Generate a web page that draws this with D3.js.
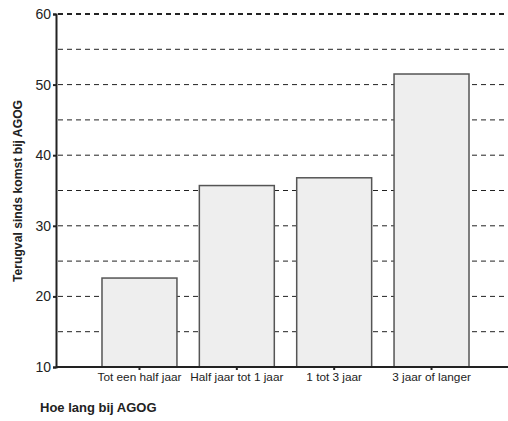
<!DOCTYPE html>
<html><head><meta charset="utf-8">
<script src="https://cdn.jsdelivr.net/npm/d3@7"></script>
<style>body{margin:0;background:#fff}svg{display:block;font-family:"Liberation Sans",Arial,sans-serif}</style>
</head><body><svg id="c" width="508" height="421"></svg>
<script>
const categories = ["Tot een half jaar","Half jaar tot 1 jaar","1 tot 3 jaar","3 jaar of langer"];
const values = [22.6, 35.7, 36.8, 51.5];
const yTicks = [10,20,30,40,50,60];
const gridValues = [15,20,25,30,35,40,45,50,55,60];
const yTitle = "Terugval sinds komst bij AGOG";
const xTitle = "Hoe lang bij AGOG";

const svg = d3.select("#c");
const y = d3.scaleLinear().domain([10,60]).range([367,14]);
const x = d3.scaleBand().domain(categories).range([90.8,480.2]).paddingInner(0.23).paddingOuter(0.115);
const x0 = 56, x1 = 508;

// grid
svg.append("g").selectAll("line").data(gridValues).join("line")
  .attr("x1", x0+2).attr("x2", x1).attr("y1", d=>y(d)).attr("y2", d=>y(d))
  .attr("stroke", "#222").attr("stroke-width", d=>d===60?2:1).attr("stroke-dasharray", "5,4");

// bars
svg.append("g").selectAll("rect").data(values).join("rect")
  .attr("x", (d,i)=>x(categories[i])).attr("width", x.bandwidth())
  .attr("y", d=>y(d)).attr("height", d=>y(10)-y(d))
  .attr("fill", "#eeeeee").attr("stroke", "#555").attr("stroke-width", 1.5);

// y axis
const ya = svg.append("g").attr("transform", `translate(${x0},0)`)
  .call(d3.axisLeft(y).tickValues(yTicks).tickSize(3).tickPadding(2));
ya.select(".domain").attr("stroke", "#222").attr("stroke-width", 2);
ya.selectAll(".tick line").attr("stroke", "#222").attr("stroke-width", 2);
ya.selectAll("text").attr("font-size", 14).attr("fill", "#222").attr("font-family", "'Liberation Sans',Arial,sans-serif");

// x axis
const xa = svg.append("g").attr("transform", `translate(0,${y(10)})`)
  .call(d3.axisBottom(x).tickSize(3).tickPadding(3).tickSizeOuter(0));
xa.select(".domain").attr("d", `M${x0},0H${x1}`).attr("stroke", "#222").attr("stroke-width", 2);
xa.selectAll(".tick line").attr("stroke", "#222").attr("stroke-width", 2);
xa.selectAll("text").attr("font-size", 11.8).attr("fill", "#222").attr("font-family", "'Liberation Sans',Arial,sans-serif");

// titles
svg.append("text").attr("transform", "translate(22,191) rotate(-90)")
  .attr("text-anchor", "middle").attr("font-size", 12.2).attr("font-weight", "bold").attr("fill", "#222").text(yTitle);
svg.append("text").attr("x", 40).attr("y", 412)
  .attr("font-size", 13).attr("font-weight", "bold").attr("fill", "#222").text(xTitle);
</script></body></html>
